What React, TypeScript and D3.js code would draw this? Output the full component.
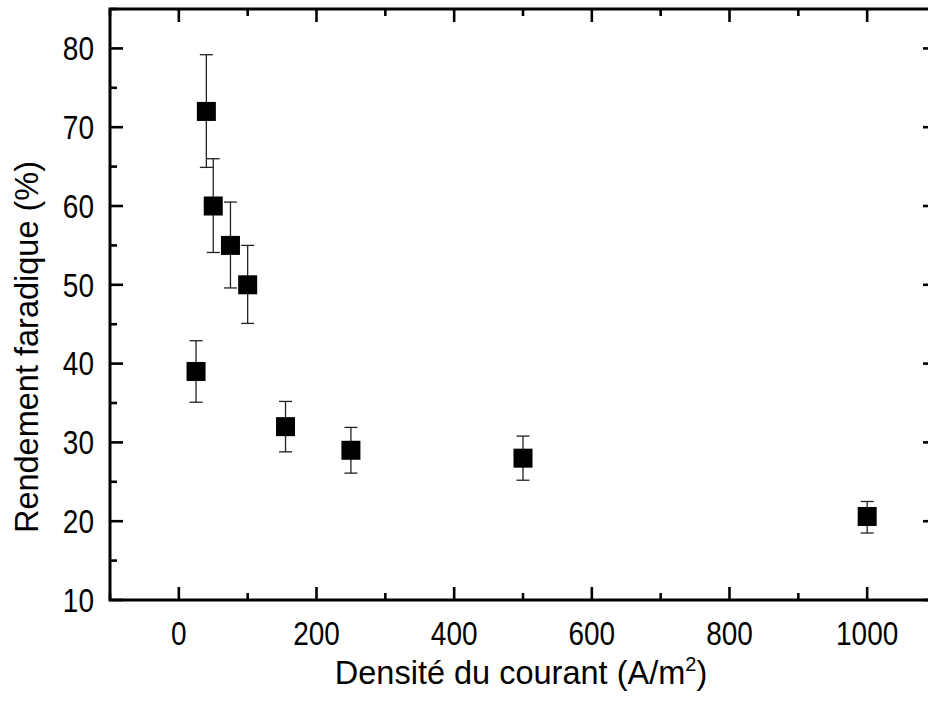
import React from "react";
import * as d3 from "d3";

const xValues = [25, 40, 50, 75, 100, 155, 250, 500, 1000];
const yValues = [39, 72, 60, 55, 50, 32, 29, 28, 20.6];
const errLow = [35.1, 64.9, 54.1, 49.6, 45.1, 28.8, 26.1, 25.2, 18.5];
const errHigh = [42.9, 79.2, 66.0, 60.5, 55.0, 35.2, 31.9, 30.8, 22.5];
const xTicks = [0, 200, 400, 600, 800, 1000];
const xMinor = [-100, 100, 300, 500, 700, 900, 1100];
const yTicks = [10, 20, 30, 40, 50, 60, 70, 80];
const yMinor = [15, 25, 35, 45, 55, 65, 75, 85];

const W = 928;
const H = 706;
const L = 110, R = 936, T = 9, B = 600;

export default function App() {
  const x = d3.scaleLinear().domain([-100, 1100]).range([L, R]);
  const y = d3.scaleLinear().domain([10, 85]).range([B, T]);
  const font = "Liberation Sans, Arial, sans-serif";
  const major = 13, minor = 7, sq = 19, cap = 6.5;
  return (
    <svg width={W} height={H} style={{ position: "absolute", left: 0, top: 0, background: "#fff" }}>
      <rect x={0} y={0} width={W} height={H} fill="#fff" />
      {xValues.map((xv, i) => (
        <g key={"e" + i} stroke="#222" strokeWidth={1.3}>
          <line x1={x(xv)} x2={x(xv)} y1={y(errLow[i])} y2={y(errHigh[i])} />
          <line x1={x(xv) - cap} x2={x(xv) + cap} y1={y(errLow[i])} y2={y(errLow[i])} />
          <line x1={x(xv) - cap} x2={x(xv) + cap} y1={y(errHigh[i])} y2={y(errHigh[i])} />
        </g>
      ))}
      {xValues.map((xv, i) => (
        <rect key={"p" + i} x={x(xv) - sq / 2} y={y(yValues[i]) - sq / 2} width={sq} height={sq} fill="#000" />
      ))}
      <g stroke="#000" strokeWidth={2.6}>
        {xTicks.map((t) => (
          <g key={"xt" + t}>
            <line x1={x(t)} x2={x(t)} y1={B} y2={B - major} />
            <line x1={x(t)} x2={x(t)} y1={T} y2={T + major} />
          </g>
        ))}
        {xMinor.map((t) => (
          <g key={"xm" + t}>
            <line x1={x(t)} x2={x(t)} y1={B} y2={B - minor} />
            <line x1={x(t)} x2={x(t)} y1={T} y2={T + minor} />
          </g>
        ))}
        {yTicks.map((t) => (
          <g key={"yt" + t}>
            <line x1={L} x2={L + major} y1={y(t)} y2={y(t)} />
            <line x1={R} x2={R - major} y1={y(t)} y2={y(t)} />
          </g>
        ))}
        {yMinor.map((t) => (
          <g key={"ym" + t}>
            <line x1={L} x2={L + minor} y1={y(t)} y2={y(t)} />
            <line x1={R} x2={R - minor} y1={y(t)} y2={y(t)} />
          </g>
        ))}
      </g>
      <rect x={L} y={T} width={R - L} height={B - T} fill="none" stroke="#000" strokeWidth={3} />
      <g fontFamily={font} fontSize={28} fill="#000">
        {xTicks.map((t) => (
          <text key={"xl" + t} transform={`translate(${x(t)},${B + 45}) scale(1,1.18)`} textAnchor="middle">{t}</text>
        ))}
        {yTicks.map((t) => (
          <text key={"yl" + t} transform={`translate(94,${y(t) + 11.8}) scale(1,1.18)`} textAnchor="end">{t}</text>
        ))}
      </g>
      <text x={521} y={684} textAnchor="middle" fontFamily={font} fontSize={32.5} fill="#000">
        Densité du courant (A/m<tspan dy={-13} fontSize={20}>2</tspan><tspan dy={13}>)</tspan>
      </text>
      <text transform="translate(38,347) rotate(-90)" textAnchor="middle" fontFamily={font} fontSize={32.5} fill="#000">
        Rendement faradique (%)
      </text>
    </svg>
  );
}
